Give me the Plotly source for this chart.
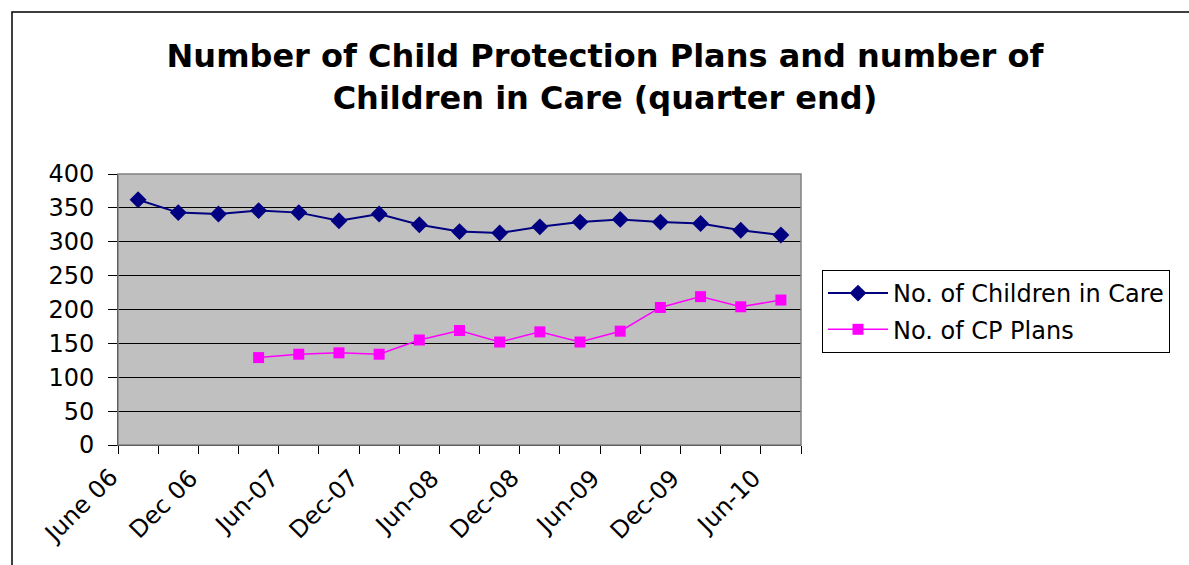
import plotly.graph_objects as go

# Quarter-end categories (June 2006 to June 2010)
quarters = ["Jun 06", "Sep 06", "Dec 06", "Mar 07", "Jun 07", "Sep 07", "Dec 07",
            "Mar 08", "Jun 08", "Sep 08", "Dec 08", "Mar 09", "Jun 09", "Sep 09",
            "Dec 09", "Mar 10", "Jun 10"]

children_in_care = [362, 343, 341, 346, 343, 331, 341, 325, 315, 313, 322, 329,
                    333, 329, 327, 317, 310]

# CP plan counts start from March 2007
cp_plans = [None, None, None, 129, 134, 136, 134, 155, 169, 152, 167, 152, 168,
            203, 219, 204, 214]

tick_labels = ["June 06", "Dec 06", "Jun-07", "Dec-07", "Jun-08", "Dec-08",
               "Jun-09", "Dec-09", "Jun-10"]
tick_every = 2

x_idx = list(range(len(quarters)))
label_idx = x_idx[::tick_every]

FONT = "DejaVu Sans, Arial, sans-serif"

fig = go.Figure()
fig.add_trace(go.Scatter(
    x=x_idx, y=children_in_care, name="No. of Children in Care",
    mode="lines+markers", legendgroup="a",
    line=dict(color="#000080", width=2),
    marker=dict(symbol="diamond", size=13, color="#000080"),
))
fig.add_trace(go.Scatter(
    x=x_idx, y=cp_plans, name="No. of CP Plans",
    mode="lines+markers", legendgroup="b",
    line=dict(color="#FF00FF", width=1.5),
    marker=dict(symbol="square", size=11, color="#FF00FF"),
))

# Rotated category labels, hung just left of each labelled quarter
for i, lab in zip(label_idx, tick_labels):
    fig.add_annotation(
        x=i, y=0, xref="x", yref="paper", text=lab, showarrow=False,
        textangle=-45, xanchor="right", yanchor="top",
        xshift=-12, yshift=-16,
        font=dict(family=FONT, size=24, color="black"),
    )

W, H = 1189, 565
L, R, T, B = 118, 1189 - 801, 174, 565 - 445
pw, ph = W - L - R, H - T - B

def px_x(p):
    return (p - L) / pw

def px_y(p):
    return (H - B - p) / ph

fig.update_layout(
    width=W, height=H,
    margin=dict(l=L, r=R, t=T, b=B),
    paper_bgcolor="white",
    plot_bgcolor="#C0C0C0",
    font=dict(family=FONT, color="black"),
    title=dict(
        text="<b>Number of Child Protection Plans and number of<br>Children in Care (quarter end)</b>",
        font=dict(family=FONT, size=32, color="black"),
        x=605 / W, xanchor="center", xref="container",
        y=1 - 67 / H, yanchor="top", yref="container",
    ),
    legend=dict(
        x=px_x(822), y=px_y(270), xanchor="left", yanchor="top",
        bgcolor="white", bordercolor="black", borderwidth=1,
        font=dict(family=FONT, size=24, color="black"),
        traceorder="grouped", tracegroupgap=2, itemwidth=60,
    ),
    showlegend=True,
    xaxis=dict(
        range=[-0.5, len(quarters) - 0.5],
        showticklabels=False, ticks="", showgrid=False, zeroline=False,
        showline=True, linecolor="black", linewidth=1,
        minor=dict(ticks="outside", tick0=-0.5, dtick=1, ticklen=8,
                   tickcolor="black", tickwidth=1, showgrid=False),
    ),
    yaxis=dict(
        range=[0, 400], tickmode="linear", tick0=0, dtick=50,
        ticks="outside", ticklen=9, tickcolor="black",
        ticklabelstandoff=9,
        showgrid=True, gridcolor="black", gridwidth=1, zeroline=False,
        tickfont=dict(family=FONT, size=24, color="black"),
        showline=True, linecolor="black", linewidth=1,
    ),
    shapes=[
        # plot area frame
        dict(type="rect", xref="paper", yref="paper", x0=0, x1=1, y0=0, y1=1,
             line=dict(color="#808080", width=1.5), layer="above"),
        # chart outer frame
        dict(type="rect", xref="paper", yref="paper",
             x0=px_x(12), x1=px_x(1250), y0=px_y(620), y1=px_y(12),
             line=dict(color="black", width=1.5), layer="below"),
    ],
)

fig.write_html("out.html")
